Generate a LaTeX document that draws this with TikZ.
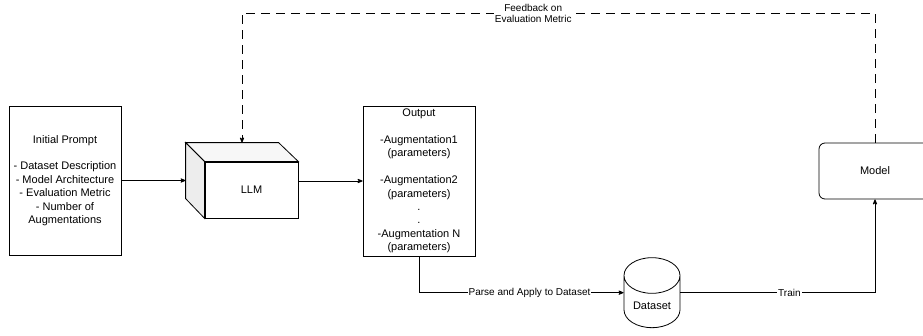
\documentclass[tikz,border=0pt]{standalone}
\usepackage{fontspec}
\setmainfont{Liberation Sans}
\usetikzlibrary{arrows,shapes}

\begin{document}
\begin{tikzpicture}[x=1pt,y=-1pt,line width=0.8pt,>=stealth',
  txt/.style={font=\fontsize{11}{13.4}\selectfont},
  box/.style={draw,txt,align=center,inner sep=2pt,minimum width=112pt},
  lbl/.style={fill=white,inner sep=1pt,font=\fontsize{10}{11}\selectfont}]
\useasboundingbox (0,0) rectangle (923,335);
\node[box,minimum height=149pt] (prompt) at (65,180.5) {Initial Prompt\\[13.4pt]- Dataset Description\\- Model Architecture\\- Evaluation Metric\\- Number of\\Augmentations};
% LLM as a cube: front face plus top and left faces
\node[draw,txt,fill=white,minimum width=93pt,minimum height=56pt] (llm) at (251.5,190) {LLM};
\draw[fill=gray!6] (llm.north west) -- ++(-19,-19) coordinate (llmtl) -- ++(93,0) -- (llm.north east) -- cycle;
\draw[fill=gray!14] (llm.north west) -- (llmtl) -- ++(0,56) -- (llm.south west) -- cycle;
\node[box,minimum height=150pt] (output) at (419,181) {Output\\[13.4pt]-Augmentation1\\(parameters)\\[13.4pt]-Augmentation2\\(parameters)\\.\\.\\-Augmentation N\\(parameters)};
\node[draw,txt,cylinder,shape border rotate=90,aspect=0.8,minimum width=56pt,minimum height=70pt] (data) at (652,306) {Dataset};
\node[box,rounded corners=6pt,minimum height=56pt] (model) at (875,171) {Model};
\coordinate (fb) at (242,13);

\draw[->] (prompt.east) -- (prompt.east -| llmtl);
\draw[->] (output.west -| llm.east) -- (output.west);
\draw[->] (output.south) |- node[lbl,pos=0.77] {Parse and Apply to Dataset} (data.west |- data.shape center);
\draw[->] (data.east |- data.shape center) -| node[lbl,pos=0.28] {Train} (model.south);
\draw[->,dash pattern=on 9pt off 6pt] (model.north) |- node[lbl,pos=0.77,align=center] {Feedback on\\Evaluation Metric} (fb) -- (fb |- llmtl);
\end{tikzpicture}
\end{document}
